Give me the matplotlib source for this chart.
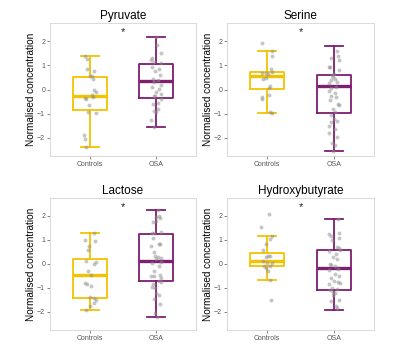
import matplotlib.pyplot as plt
import numpy as np

plt.rcParams['font.family'] = ['Liberation Sans', 'DejaVu Sans']

groups = ['Controls', 'OSA']
metabolites = ['Pyruvate', 'Serine', 'Lactose', 'Hydroxybutyrate']

# box statistics per metabolite: [controls, osa] -> (whislo, q1, med, q3, whishi)
box_stats = {
    'Pyruvate': [(-2.39, -0.86, -0.28, 0.53, 1.39), (-1.56, -0.35, 0.36, 1.04, 2.19)],
    'Serine': [(-0.96, 0.04, 0.56, 0.72, 1.60), (-2.53, -0.96, 0.14, 0.60, 1.80)],
    'Lactose': [(-1.93, -1.42, -0.46, 0.21, 1.28), (-2.21, -0.70, 0.11, 1.24, 2.23)],
    'Hydroxybutyrate': [(-0.66, -0.07, 0.11, 0.44, 1.17), (-1.93, -1.08, -0.18, 0.59, 1.86)],
}

# jittered samples: (x offset from group centre, value)
pyr_ctrl = [(-0.07, 1.39), (-0.04, 1.28), (-0.04, 0.85), (0.06, 0.75), (0.00, 0.56),
            (0.03, 0.56), (0.05, 0.42), (0.06, -0.03), (0.09, -0.10), (0.03, -0.24),
            (0.05, -0.32), (-0.08, -0.35), (-0.06, -0.38), (-0.01, -0.65), (-0.02, -0.93),
            (0.09, -0.97), (-0.09, -1.90), (-0.08, -2.04), (-0.06, -2.39)]
pyr_osa = [(0.00, 2.19), (0.01, 1.85), (0.07, 1.50), (-0.06, 1.30), (-0.08, 1.22),
           (-0.04, 1.15), (0.08, 1.10), (-0.07, 0.95), (0.05, 0.85), (-0.02, 0.75),
           (0.06, 0.62), (-0.05, 0.45), (0.02, 0.40), (-0.03, 0.33), (0.08, 0.20),
           (-0.06, 0.10), (0.04, 0.02), (-0.01, -0.10), (0.07, -0.20), (-0.04, -0.25),
           (-0.02, -0.28), (0.08, -0.40), (0.03, -0.55), (-0.05, -0.62), (0.02, -0.80),
           (-0.03, -0.90), (0.00, -0.95), (-0.08, -1.27), (-0.03, -1.55)]
ser_ctrl = [(-0.07, 1.94), (0.07, 1.60), (0.08, 1.39), (0.06, 0.83), (0.07, 0.74),
            (-0.07, 0.69), (-0.02, 0.69), (0.02, 0.64), (-0.02, 0.46), (-0.06, 0.42),
            (0.04, 0.14), (0.03, 0.08), (0.03, -0.24), (-0.08, -0.31), (-0.07, -0.38),
            (0.05, -0.93), (0.07, -0.97)]
ser_osa = [(0.04, 1.60), (0.06, 1.39), (-0.05, 1.32), (0.07, 1.22), (-0.07, 0.95),
           (-0.06, 0.93), (0.08, 0.80), (0.00, 0.65), (-0.03, 0.58), (-0.01, 0.50),
           (0.02, 0.42), (-0.05, 0.38), (0.05, 0.30), (-0.08, 0.25), (0.03, 0.12),
           (-0.04, 0.05), (-0.07, -0.05), (0.01, -0.15), (-0.05, -0.25), (0.03, -0.30),
           (-0.06, -0.45), (0.06, -0.60), (0.07, -0.65), (-0.02, -0.80), (0.02, -0.95),
           (-0.04, -1.05), (0.00, -1.20), (-0.05, -1.35), (0.04, -1.30), (-0.07, -1.50),
           (0.01, -1.65), (-0.08, -1.80), (0.05, -1.95), (-0.03, -2.20), (0.02, -2.30),
           (-0.01, -2.53)]
lac_ctrl = [(0.06, 1.28), (-0.07, 1.00), (0.08, 0.97), (-0.01, 0.76), (-0.02, 0.60),
            (-0.06, 0.14), (0.10, 0.10), (0.06, 0.00), (-0.02, -0.30), (0.02, -0.46),
            (-0.07, -0.79), (-0.04, -0.83), (0.02, -0.92), (0.01, -1.38), (0.07, -1.42),
            (0.10, -1.52), (0.06, -1.61), (0.00, -1.75), (-0.05, -1.93)]
lac_osa = [(0.02, 2.23), (0.05, 2.00), (-0.01, 1.95), (0.06, 1.90), (0.00, 1.80),
           (-0.05, 1.75), (0.08, 1.35), (-0.07, 1.30), (-0.03, 1.30), (-0.05, 1.10),
           (0.05, 0.85), (0.06, 0.82), (-0.08, 0.75), (-0.03, 0.50), (-0.02, 0.35),
           (0.03, 0.30), (0.07, 0.25), (-0.01, 0.20), (0.08, 0.10), (-0.06, 0.05),
           (0.04, -0.10), (-0.04, -0.30), (0.06, -0.45), (-0.08, -0.50), (-0.03, -0.48),
           (0.08, -0.60), (0.05, -0.70), (0.08, -0.75), (-0.05, -0.85), (-0.07, -0.95),
           (-0.02, -1.00), (0.00, -1.20), (0.05, -1.30), (-0.04, -1.45), (0.06, -1.65),
           (-0.02, -2.05), (0.01, -2.21)]
hyd_ctrl = [(0.03, 2.07), (-0.09, 1.54), (0.08, 1.17), (0.05, 1.03), (-0.02, 0.83),
            (-0.06, 0.59), (0.02, 0.34), (0.05, 0.32), (-0.01, 0.28), (-0.06, 0.14),
            (0.07, 0.04), (0.00, 0.04), (-0.04, -0.07), (0.05, -0.10), (-0.01, -0.18),
            (0.02, -0.28), (0.04, -0.66), (0.06, -1.52)]
hyd_osa = [(0.06, 1.86), (-0.07, 1.25), (0.07, 1.30), (-0.05, 1.15), (0.08, 1.10),
           (-0.03, 1.00), (0.05, 0.70), (0.07, 0.65), (0.09, 0.60), (-0.08, 0.55),
           (0.03, 0.40), (-0.02, 0.30), (0.04, 0.20), (-0.06, 0.00), (-0.04, -0.05),
           (0.01, -0.10), (0.06, -0.20), (-0.07, -0.25), (0.02, -0.40), (0.08, -0.50),
           (-0.05, -0.60), (0.00, -0.70), (0.06, -0.75), (0.09, -0.80), (-0.08, -0.85),
           (-0.03, -1.00), (0.04, -1.05), (-0.06, -1.10), (-0.02, -1.15), (0.02, -1.20),
           (-0.01, -1.30), (0.07, -1.50), (-0.04, -1.55), (0.03, -1.75), (0.05, -1.85)]

samples = {
    'Pyruvate': [pyr_ctrl, pyr_osa],
    'Serine': [ser_ctrl, ser_osa],
    'Lactose': [lac_ctrl, lac_osa],
    'Hydroxybutyrate': [hyd_ctrl, hyd_osa],
}

colors = ['#F2C300', '#7D1E71']

W, H = 402, 349
fig = plt.figure(figsize=(W / 100, H / 100), dpi=100)
fig.patch.set_facecolor('white')

# panel rectangles in pixels: (left, top, right, bottom)
rects = [(50, 23, 196, 156), (227, 23, 374, 156),
         (50, 198, 196, 330), (227, 198, 374, 330)]

for name, (l, t, r, b) in zip(metabolites, rects):
    ax = fig.add_axes([l / W, (H - b) / H, (r - l) / W, (b - t) / H])
    stats = []
    for s in box_stats[name]:
        stats.append(dict(whislo=s[0], q1=s[1], med=s[2], q3=s[3], whishi=s[4], fliers=[]))
    bp = ax.bxp(stats, positions=[1, 2], widths=0.52, capwidths=0.27,
                showfliers=False, patch_artist=False)
    for i, c in enumerate(colors):
        bp['boxes'][i].set(color=c, linewidth=1.3)
        bp['medians'][i].set(color=c, linewidth=2.4)
        for j in (2 * i, 2 * i + 1):
            bp['whiskers'][j].set(color=c, linewidth=1.3)
            bp['caps'][j].set(color=c, linewidth=1.3)

    for i, pts in enumerate(samples[name]):
        dx = np.array([p[0] for p in pts])
        yv = np.array([p[1] for p in pts])
        ax.scatter(i + 1 + dx, yv, s=8, color='#8c8c8c', alpha=0.5,
                   linewidths=0, zorder=5)

    ax.text(1.5, 2.38, '*', ha='center', va='center', fontsize=8, color='#222222')

    ax.set_xlim(0.4, 2.6)
    ax.set_ylim(-2.75, 2.75)
    ax.set_xticks([1, 2])
    ax.set_xticklabels(groups)
    ax.set_yticks([-2, -1, 0, 1, 2])
    ax.set_yticklabels(['\u22122', '\u22121', '0', '1', '2'])
    ax.tick_params(labelsize=5, colors='#555555', length=2, width=0.5, pad=1.5)
    for sp in ax.spines.values():
        sp.set_color('#d4d4d4')
        sp.set_linewidth(0.6)
    ax.set_title(name, fontsize=8.5, pad=3)
    ax.set_ylabel('Normalised concentration', fontsize=7.2, labelpad=1)

fig.savefig('out.png', dpi=100, facecolor='white')
